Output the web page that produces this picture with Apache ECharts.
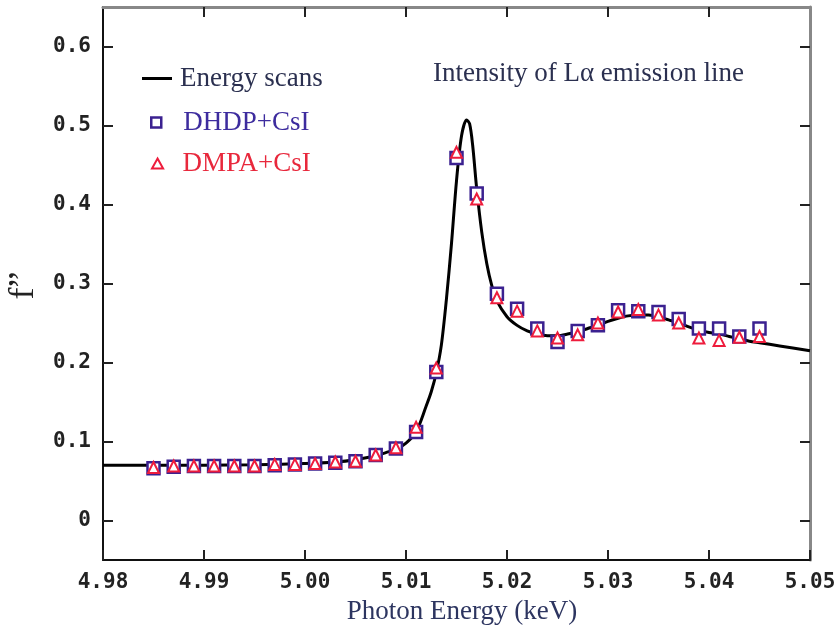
<!DOCTYPE html>
<html>
<head>
<meta charset="utf-8">
<script src="https://cdn.jsdelivr.net/npm/echarts@6/dist/echarts.min.js"></script>
<style>
  html, body { margin: 0; padding: 0; background: #fff; }
  #chart { width: 836px; height: 632px; }
</style>
</head>
<body>
<div id="chart"></div>
<script>
// Photon energies (keV) of the measured points
const energies = [4.985, 4.987, 4.989, 4.991, 4.993, 4.995, 4.997, 4.999, 5.001, 5.003,
  5.005, 5.007, 5.009, 5.011, 5.013, 5.015, 5.017, 5.019, 5.021, 5.023,
  5.025, 5.027, 5.029, 5.031, 5.033, 5.035, 5.037, 5.039, 5.041, 5.043, 5.045];

// f'' from the Lα emission-line intensity, DHDP+CsI
const dhdp = [0.066, 0.068, 0.069, 0.069, 0.069, 0.069, 0.070, 0.071, 0.072, 0.073,
  0.075, 0.083, 0.091, 0.112, 0.188, 0.459, 0.414, 0.287, 0.268, 0.243,
  0.226, 0.240, 0.247, 0.266, 0.265, 0.264, 0.255, 0.243, 0.243, 0.233, 0.243];

// f'' from the Lα emission-line intensity, DMPA+CsI
const dmpa = [0.067, 0.069, 0.069, 0.069, 0.069, 0.069, 0.071, 0.071, 0.072, 0.074,
  0.075, 0.083, 0.092, 0.118, 0.193, 0.466, 0.407, 0.282, 0.265, 0.240,
  0.231, 0.235, 0.250, 0.264, 0.267, 0.260, 0.250, 0.231, 0.228, 0.232, 0.233];

// Energy-scan curve: energies and f'' values
const scanEnergy = [4.980, 4.985, 4.990, 4.995, 5.000, 5.003, 5.005, 5.007, 5.008, 5.009,
  5.010, 5.011, 5.012, 5.0125, 5.013, 5.0135, 5.014, 5.0145, 5.015, 5.0155,
  5.016, 5.0163, 5.0166, 5.017, 5.0175, 5.018, 5.0185, 5.019, 5.020, 5.021,
  5.022, 5.023, 5.024, 5.025, 5.026, 5.027, 5.028, 5.029, 5.030, 5.031,
  5.032, 5.033, 5.034, 5.035, 5.036, 5.037, 5.038, 5.039, 5.040, 5.041,
  5.042, 5.043, 5.044, 5.045, 5.047, 5.050];
const scanF2 = [0.070, 0.070, 0.070, 0.0705, 0.072, 0.074, 0.077, 0.082, 0.086, 0.090,
  0.098, 0.112, 0.145, 0.163, 0.187, 0.222, 0.280, 0.350, 0.430, 0.487,
  0.507, 0.502, 0.475, 0.420, 0.365, 0.325, 0.297, 0.278, 0.258, 0.247,
  0.240, 0.236, 0.234, 0.234, 0.236, 0.239, 0.243, 0.247, 0.252, 0.256,
  0.259, 0.260, 0.260, 0.258, 0.254, 0.250, 0.245, 0.241, 0.238, 0.236,
  0.233, 0.230, 0.227, 0.225, 0.221, 0.215];

// Axis tick values
const xTicks = [4.98, 4.99, 5.00, 5.01, 5.02, 5.03, 5.04, 5.05];
const yTicks = [0, 0.1, 0.2, 0.3, 0.4, 0.5, 0.6];

const zip = (xs, ys) => xs.map((x, i) => [x, ys[i]]);

const monoFont = '"DejaVu Sans Mono", monospace';
const serifFont = '"Liberation Serif", "DejaVu Serif", serif';
const squareColor = '#3b2190';
const triColor = '#ee1c3c';

// Legend glyphs
const lineIcon = 'path://M0,0 H30 V3 H0 Z';
const squareIcon = 'path://M0,0 H10 V10 H0 Z';
const triangleIcon = 'path://M5,0 L10,9 L0,9 Z';

const chart = echarts.init(document.getElementById('chart'), null, { renderer: 'canvas' });

const xBase = {
  type: 'value', min: 4.98, max: 5.05,
  splitLine: { show: false },
  axisTick: { inside: true, length: 10, lineStyle: { color: '#222', width: 2 }, customValues: xTicks },
};
const yBase = {
  type: 'value', min: -0.05, max: 0.65,
  splitLine: { show: false },
  axisTick: { inside: true, length: 10, lineStyle: { color: '#222', width: 2 }, customValues: yTicks },
};

const legendText = color => ({ fontFamily: serifFont, fontSize: 27, color: color });

chart.setOption({
  backgroundColor: '#fff',
  animation: false,
  grid: { left: 103, right: 26, top: 7, bottom: 72, containLabel: false, outerBoundsMode: 'none' },
  title: {
    text: 'Intensity of L\u03b1 emission line',
    left: 428, top: 55,
    textStyle: { fontFamily: serifFont, fontSize: 27, fontWeight: 'normal', color: '#2b3050' }
  },
  legend: [
    { data: [{ name: 'Energy scans', icon: lineIcon }], left: 137, top: 60,
      itemWidth: 30, itemHeight: 3, symbolKeepAspect: false,
      itemStyle: { color: '#000', borderWidth: 0 },
      textStyle: Object.assign(legendText('#2b3050'), { padding: [0, 0, 0, 3] }) },
    { data: [{ name: 'DHDP+CsI', icon: squareIcon }], left: 145, top: 104,
      itemWidth: 30, itemHeight: 10,
      itemStyle: { color: '#fff', borderColor: squareColor, borderWidth: 2.5 },
      textStyle: Object.assign(legendText('#3d2c9e'), { padding: [0, 0, 0, 7] }) },
    { data: [{ name: 'DMPA+CsI', icon: triangleIcon }], left: 146, top: 145,
      itemWidth: 30, itemHeight: 10,
      itemStyle: { color: '#fff', borderColor: triColor, borderWidth: 2 },
      textStyle: Object.assign(legendText('#e8283c'), { padding: [0, 0, 0, 5] }) }
  ],
  xAxis: [
    Object.assign({}, xBase, {
      position: 'bottom',
      name: 'Photon Energy (keV)', nameLocation: 'middle', nameGap: 38,
      nameTextStyle: { fontFamily: serifFont, fontSize: 27, color: '#2d3560', padding: [0, 0, 0, 11] },
      axisLine: { onZero: false, lineStyle: { color: '#111', width: 2 } },
      axisLabel: {
        margin: 12, fontFamily: monoFont, fontSize: 21, fontWeight: 'bold', color: '#222',
        customValues: xTicks, formatter: v => v.toFixed(2)
      }
    }),
    Object.assign({}, xBase, {
      position: 'top',
      axisLine: { onZero: false, lineStyle: { color: '#888', width: 3 } },
      axisLabel: { show: false },
      axisTick: Object.assign({}, xBase.axisTick, { customValues: xTicks.slice(1, -1) })
    })
  ],
  yAxis: [
    Object.assign({}, yBase, {
      position: 'left',
      name: 'f\u201D', nameLocation: 'middle', nameGap: 61, nameRotate: 90,
      nameTextStyle: { fontFamily: serifFont, fontSize: 36, color: '#222', padding: [0, 4, 0, 0] },
      axisLine: { onZero: false, lineStyle: { color: '#111', width: 2 } },
      axisLabel: {
        margin: 12, fontFamily: monoFont, fontSize: 21, fontWeight: 'bold', color: '#222',
        customValues: yTicks, formatter: v => (v === 0 ? '0' : v.toFixed(1))
      }
    }),
    Object.assign({}, yBase, {
      position: 'right',
      axisLine: { onZero: false, lineStyle: { color: '#888', width: 3 } },
      axisLabel: { show: false }
    })
  ],
  series: [
    {
      name: 'Energy scans', type: 'line',
      data: zip(scanEnergy, scanF2),
      symbol: 'none', smooth: 0.3,
      lineStyle: { color: '#000', width: 3 },
      itemStyle: { color: '#000' },
      z: 2
    },
    {
      name: 'DHDP+CsI', type: 'scatter',
      data: zip(energies, dhdp),
      symbol: 'rect', symbolSize: 12,
      itemStyle: { color: '#fff', borderColor: squareColor, borderWidth: 2.5, opacity: 1 },
      z: 3
    },
    {
      name: 'DMPA+CsI', type: 'scatter',
      data: zip(energies, dmpa),
      symbol: 'triangle', symbolSize: 11,
      itemStyle: { color: '#fff', borderColor: triColor, borderWidth: 2, opacity: 1 },
      z: 4
    }
  ]
});
</script>
</body>
</html>
